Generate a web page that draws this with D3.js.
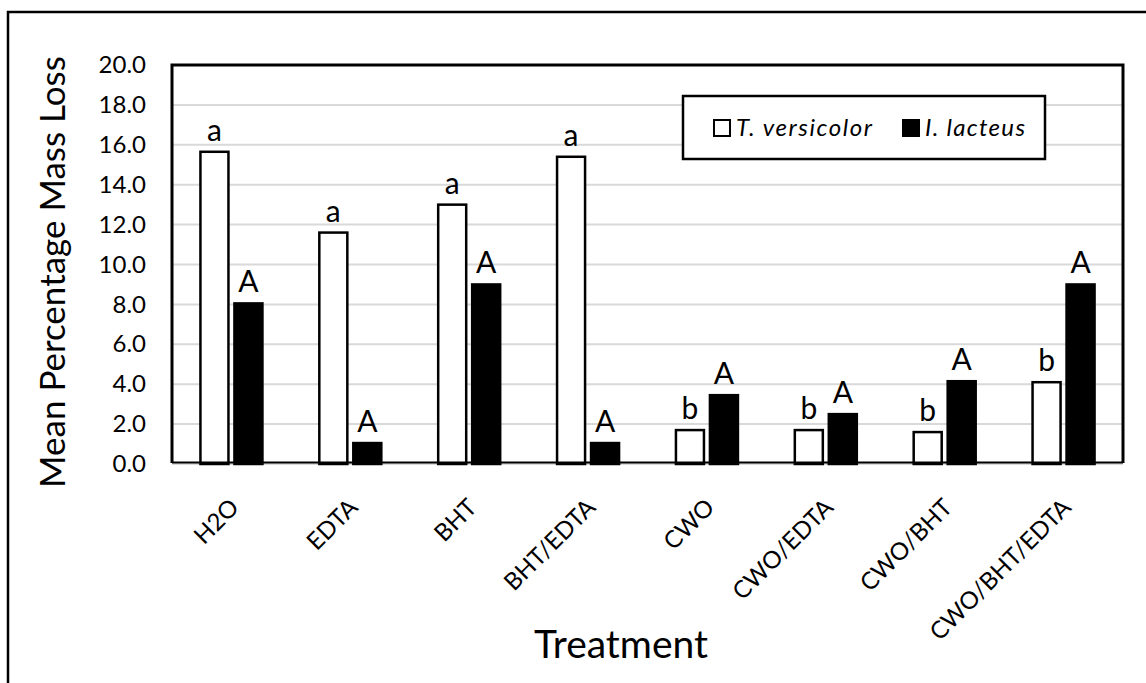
<!DOCTYPE html>
<html>
<head>
<meta charset="utf-8">
<script src="https://cdn.jsdelivr.net/npm/d3@7"></script>
<style>
  body { margin: 0; background: #fff; }
  text { font-family: Lato, "Open Sans", sans-serif; fill: #000; }
</style>
</head>
<body>
<div id="chart"></div>
<script>
// data
var categories = ["H2O", "EDTA", "BHT", "BHT/EDTA", "CWO", "CWO/EDTA", "CWO/BHT", "CWO/BHT/EDTA"];
var seriesNames = ["T. versicolor", "I. lacteus"];
var versicolor = [15.65, 11.6, 13.0, 15.4, 1.7, 1.7, 1.6, 4.1];
var lacteus = [8.05, 1.05, 9.0, 1.05, 3.45, 2.5, 4.15, 9.0];
var versicolorLetters = ["a", "a", "a", "a", "b", "b", "b", "b"];
var lacteusLetters = ["A", "A", "A", "A", "A", "A", "A", "A"];
var yTicks = [0, 2, 4, 6, 8, 10, 12, 14, 16, 18, 20];

var W = 1146, H = 683;
var plot = { left: 172, right: 1123, top: 65, bottom: 464 };

var svg = d3.select("#chart")
    .append("svg")
    .attr("width", W)
    .attr("height", H);

// outer chart border (right and bottom run off the picture)
svg.append("rect")
    .attr("x", 8)
    .attr("y", 12)
    .attr("width", W + 20)
    .attr("height", H + 20)
    .attr("fill", "#fff")
    .attr("stroke", "#000")
    .attr("stroke-width", 2.5);

// scales
var x0 = d3.scaleBand()
    .domain(categories)
    .range([plot.left, plot.right])
    .padding(0);

var x1 = d3.scaleBand()
    .domain(seriesNames)
    .range([x0.bandwidth() / 2 - 31, x0.bandwidth() / 2 + 31])
    .paddingInner(0.176)
    .paddingOuter(0);

var y = d3.scaleLinear()
    .domain([0, 20])
    .range([plot.bottom, plot.top]);

// gridlines
svg.append("g")
    .selectAll("line")
    .data(yTicks.filter(function (d) { return d < 20; }))
    .join("line")
    .attr("x1", plot.left)
    .attr("x2", plot.right)
    .attr("y1", function (d) { return y(d); })
    .attr("y2", function (d) { return y(d); })
    .attr("stroke", "#d9d9d9")
    .attr("stroke-width", 2);

// y axis labels
var axisY = svg.append("g")
    .attr("transform", "translate(" + plot.left + ",0)")
    .call(d3.axisLeft(y).tickValues(yTicks).tickFormat(d3.format(".1f")).tickSize(0).tickPadding(26));
axisY.select(".domain").remove();
axisY.selectAll("text")
    .style("font-family", "Lato, sans-serif")
    .style("font-size", "24px")
    .attr("fill", "#000");

// bars
var rows = categories.map(function (c, i) {
    return [
        { cat: c, s: seriesNames[0], v: versicolor[i], letter: versicolorLetters[i] },
        { cat: c, s: seriesNames[1], v: lacteus[i], letter: lacteusLetters[i] }
    ];
});

var group = svg.append("g")
    .selectAll("g")
    .data(rows)
    .join("g")
    .attr("transform", function (d) { return "translate(" + x0(d[0].cat) + ",0)"; });

group.selectAll("rect")
    .data(function (d) { return d; })
    .join("rect")
    .attr("x", function (d) { return x1(d.s); })
    .attr("width", x1.bandwidth())
    .attr("y", function (d) { return y(d.v); })
    .attr("height", function (d) { return y(0) - y(d.v); })
    .attr("fill", function (d) { return d.s === seriesNames[0] ? "#fff" : "#000"; })
    .attr("stroke", "#000")
    .attr("stroke-width", 2.5);

group.selectAll("text")
    .data(function (d) { return d; })
    .join("text")
    .attr("x", function (d) { return x1(d.s) + x1.bandwidth() / 2; })
    .attr("y", function (d) { return y(d.v) - 11; })
    .attr("text-anchor", "middle")
    .style("font-size", "30px")
    .text(function (d) { return d.letter; });

// plot frame
svg.append("path")
    .attr("d", "M" + plot.left + "," + (plot.bottom - 1) + "V" + plot.top + "H" + plot.right + "V" + (plot.bottom - 1))
    .attr("fill", "none")
    .attr("stroke", "#000")
    .attr("stroke-width", 3);
svg.append("line")
    .attr("x1", plot.left)
    .attr("x2", plot.right)
    .attr("y1", y(0) - 1.5)
    .attr("y2", y(0) - 1.5)
    .attr("stroke", "#000")
    .attr("stroke-width", 2);

// x category labels, rotated
svg.append("g")
    .selectAll("text")
    .data(categories)
    .join("text")
    .attr("transform", function (d) {
        return "translate(" + (x0(d) + x0.bandwidth() / 2 + 9) + ",509) rotate(-45)";
    })
    .attr("text-anchor", "end")
    .style("font-size", "24px")
    .text(function (d) { return d; });

// axis titles
svg.append("text")
    .attr("transform", "translate(65,272) rotate(-90)")
    .attr("text-anchor", "middle")
    .style("font-size", "35px")
    .text("Mean Percentage Mass Loss");

svg.append("text")
    .attr("x", 621)
    .attr("y", 658)
    .attr("text-anchor", "middle")
    .style("font-size", "39px")
    .text("Treatment");

// legend
var legend = svg.append("g");
legend.append("rect")
    .attr("x", 683)
    .attr("y", 96)
    .attr("width", 362)
    .attr("height", 63)
    .attr("fill", "#fff")
    .attr("stroke", "#000")
    .attr("stroke-width", 2.5);

var legendX = [714, 903];
var legendTextWidth = [136, 100];
var legendItems = legend.selectAll("g")
    .data(seriesNames)
    .join("g")
    .attr("transform", function (d, i) { return "translate(" + legendX[i] + ",120)"; });

legendItems.append("rect")
    .attr("width", 16)
    .attr("height", 16)
    .attr("fill", function (d, i) { return i === 0 ? "#fff" : "#000"; })
    .attr("stroke", "#000")
    .attr("stroke-width", 2);

legendItems.append("text")
    .attr("x", 22)
    .attr("y", 16)
    .attr("textLength", function (d, i) { return legendTextWidth[i]; })
    .attr("lengthAdjust", "spacing")
    .style("font-size", "24px")
    .style("font-style", "italic")
    .text(function (d) { return d; });
</script>
</body>
</html>
